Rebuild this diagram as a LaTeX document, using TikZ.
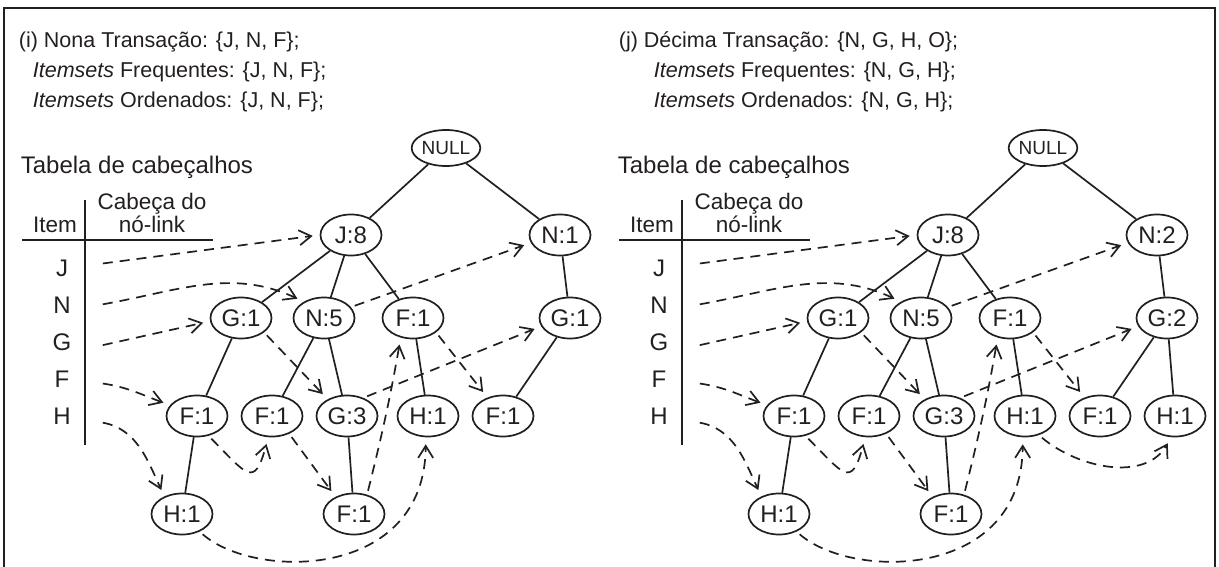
\documentclass[tikz,border=0pt]{standalone}
\usepackage{fontspec}
\setmainfont{Liberation Sans}
\usetikzlibrary{shapes.geometric,arrows.meta}
\definecolor{ink}{RGB}{35,31,32}

% FP-tree with its header table; #1 = name prefix, #2 = label of the right N node, #3 = label of the right G node
\newcommand{\fptreebody}[3]{%
  % header table
  \node[tabtitle] (#1tab) at (20,174) {Tabela de cabeçalhos};
  \node[colhead, anchor=base] (#1item) at (55,233) {Item};
  \node[colhead, anchor=base] (#1cabA) at (152,210) {Cabeça do};
  \node[colhead, anchor=base] (#1cabB) at (152,233) {nó-link};
  \draw[rule] (22,240) -- (213,240);
  \draw[rule] (85,200) -- (85,445);
  \node[itemlabel] (#1itJ) at (62,268) {J};
  \node[itemlabel] (#1itN) at (62,305) {N};
  \node[itemlabel] (#1itG) at (62,342) {G};
  \node[itemlabel] (#1itF) at (62,379) {F};
  \node[itemlabel] (#1itH) at (62,416) {H};
  % tree nodes
  \node[nullnode] (#1null) at (446,148) {NULL};
  \node[fpnode] (#1J8)  at (351,235) {J:8};
  \node[fpnode] (#1N1)  at (560,235) {#2};
  \node[fpnode] (#1G1)  at (241,318) {G:1};
  \node[fpnode] (#1N5)  at (324,318) {N:5};
  \node[fpnode] (#1F1m) at (413,318) {F:1};
  \node[fpnode] (#1G1r) at (570,318) {#3};
  \node[fpnode] (#1F1a) at (197,416) {F:1};
  \node[fpnode] (#1F1b) at (272,416) {F:1};
  \node[fpnode] (#1G3)  at (347,416) {G:3};
  \node[fpnode] (#1H1c) at (428,416) {H:1};
  \node[fpnode] (#1F1e) at (503,416) {F:1};
  \node[fpnode] (#1H1d) at (182,514) {H:1};
  \node[fpnode] (#1F1f) at (354,514) {F:1};
  % tree edges
  \draw (#1null) -- (#1J8);
  \draw (#1null) -- (#1N1);
  \draw (#1J8) -- (#1G1);
  \draw (#1J8) -- (#1N5);
  \draw (#1J8) -- (#1F1m);
  \draw (#1N1) -- (#1G1r);
  \draw (#1G1) -- (#1F1a);
  \draw (#1N5) -- (#1F1b);
  \draw (#1N5) -- (#1G3);
  \draw (#1F1m) -- (#1H1c);
  \draw (#1G1r) -- (#1F1e);
  \draw (#1F1a) -- (#1H1d);
  \draw (#1G3) -- (#1F1f);
  % node-links
  \draw[linkarrow] ([yshift=4pt]#1itJ.east) -- (#1J8.west);
  \draw[linkarrow] (#1itN.east) to[out=10,in=155] (#1N5.141);
  \draw[linkarrow] (#1N5.22) -- (#1N1.195);
  \draw[linkarrow] ([yshift=-4pt]#1itG.east) -- (#1G1.186);
  \draw[linkarrow] (#1G1.-32) -- (#1G3.139);
  \draw[linkarrow] (#1G3.48) -- (#1G1r.196);
  \draw[linkarrow] ([yshift=-4pt]#1itF.east) to[out=-8,in=160] (#1F1a.158);
  \draw[linkarrow] ([yshift=-6pt]#1itH.east) to[out=-10,in=115] (#1H1d.135);
  \draw[linkarrow] (#1F1a.-60) to[out=-45,in=-105,looseness=2.3] (#1F1b.-100);
  \draw[linkarrow] (#1F1b.-46) -- (#1F1f.137);
  \draw[linkarrow] (#1F1f.56) to[out=76,in=-100] (#1F1m.-122);
  \draw[linkarrow] (#1F1m.-32) -- (#1F1e.130);
  \draw[linkarrow] (#1H1d.-45) .. controls (255,580) and (425,580) .. (#1H1c.-96);
}

\begin{document}
\begin{tikzpicture}[x=1pt,y=-1pt,line width=1.7pt,color=ink,
  fpnode/.style={ellipse,draw,minimum width=61pt,minimum height=41pt,inner sep=0pt,
    font=\fontsize{24}{24}\selectfont},
  nullnode/.style={fpnode,minimum width=60pt,minimum height=36pt,
    font=\fontsize{19}{19}\selectfont},
  linkarrow/.style={dash pattern=on 10pt off 7pt,
    -{Straight Barb[length=12pt,width=15pt]},shorten >=7pt,shorten <=4pt},
  rule/.style={line width=1.8pt},
  hdr/.style={anchor=base west,inner sep=0pt,font=\fontsize{21.5}{30}\selectfont},
  tabtitle/.style={anchor=base west,inner sep=0pt,font=\fontsize{24}{24}\selectfont},
  colhead/.style={inner sep=0pt,font=\fontsize{22.5}{23}\selectfont},
  itemlabel/.style={minimum width=72pt,inner sep=0pt,text height=17pt,text depth=0pt,
    font=\fontsize{24}{24}\selectfont}]
\useasboundingbox (0,0) rectangle (1219,567);

% frame
\draw[line width=2.4pt] (4,567) -- (4,8) -- (1215,8) -- (1215,567);

% panel (i)
\node[hdr] (ihA) at (18,48) {(i) Nona Transação: \{J, N, F\};};
\node[hdr] (ihB) at (32,78) {\textit{Itemsets} Frequentes: \{J, N, F\};};
\node[hdr] (ihC) at (32,108) {\textit{Itemsets} Ordenados: \{J, N, F\};};
\fptreebody{a}{N:1}{G:1}

% panel (j)
\node[hdr] (jhA) at (618,48) {(j) Décima Transação: \{N, G, H, O\};};
\node[hdr] (jhB) at (653,78) {\textit{Itemsets} Frequentes: \{N, G, H\};};
\node[hdr] (jhC) at (653,108) {\textit{Itemsets} Ordenados: \{N, G, H\};};
\begin{scope}[xshift=597pt]
  \fptreebody{b}{N:2}{G:2}
  \node[fpnode] (bH1g) at (578,416) {H:1};
  \draw (bG1r) -- (bH1g);
  \draw[linkarrow] (bH1c.-54) to[out=-40,in=-120] (bH1g.-100);
\end{scope}
\end{tikzpicture}
\end{document}
